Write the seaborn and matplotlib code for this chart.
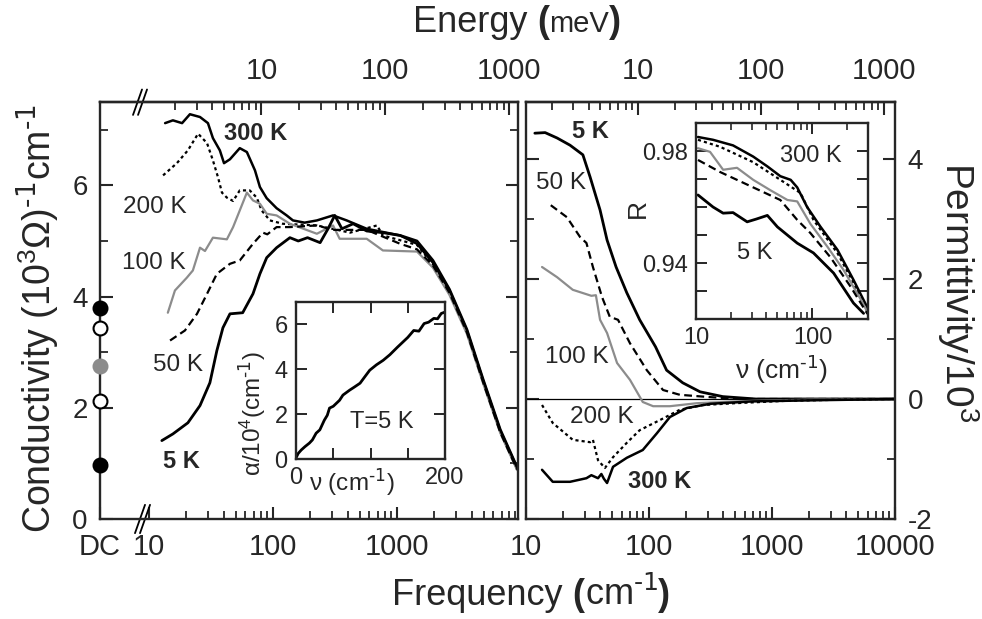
import matplotlib
matplotlib.use('Agg')
import matplotlib.pyplot as plt
import matplotlib.ticker as mticker
from matplotlib.offsetbox import TextArea, HPacker, AnchoredOffsetbox
import seaborn as sns
import pandas as pd

# ---------- optical conductivity, 10^3 (Ohm cm)^-1 ----------
nu_300 = [13.5, 15.6, 18.5, 21.4, 25.8, 29.9, 32.8, 37.3, 40.3, 45, 54, 61.6, 71.6, 78.5, 89, 107,
          129, 145, 180, 226, 305, 393, 570, 1060, 1450, 1950, 2650, 3660, 4950, 6800, 9300]
sig_300 = [7.12, 7.17, 7.12, 7.28, 7.23, 7.12, 6.85, 6.63, 6.40, 6.47, 6.67, 6.60, 6.27, 5.97, 5.77, 5.59,
           5.46, 5.37, 5.33, 5.37, 5.46, 5.37, 5.22, 5.10, 4.95, 4.61, 4.11, 3.39, 2.49, 1.59, 0.92]
nu_200 = [13.0, 16.8, 20.6, 24.9, 29.4, 32.8, 36, 38.8, 42.5, 47.7, 54, 65, 74, 81, 94.5, 120, 226, 418,
          690, 770, 1450, 1950, 2650, 3660, 4950, 6800, 9300]
sig_200 = [6.18, 6.40, 6.63, 6.93, 6.76, 6.45, 6.15, 5.87, 5.78, 5.72, 5.91, 5.91, 5.78, 5.55, 5.37, 5.31,
           5.28, 5.15, 5.28, 5.10, 4.93, 4.58, 4.08, 3.36, 2.47, 1.57, 0.90]
nu_100 = [14.2, 16.2, 20.2, 22.6, 25.8, 28.3, 32.8, 42.5, 47.7, 54, 61.6, 69, 78.5, 89, 107, 137, 226,
          305, 345, 570, 770, 1450, 1950, 2650, 3660, 4950, 6800, 9300]
sig_100 = [3.71, 4.11, 4.34, 4.47, 4.88, 4.82, 5.06, 5.03, 5.25, 5.55, 5.87, 5.73, 5.67, 5.49, 5.46, 5.31,
           5.13, 5.28, 5.04, 5.04, 4.83, 4.81, 4.52, 4.03, 3.33, 2.44, 1.55, 0.88]
nu_50 = [14.8, 19.5, 24.4, 29.4, 35.3, 45, 54, 69, 83, 90, 107, 137, 226, 305, 570, 1060, 1450, 1950,
         2650, 3660, 4950, 6800, 9300]
sig_50 = [3.21, 3.39, 3.69, 4.05, 4.41, 4.59, 4.65, 4.95, 5.15, 5.12, 5.25, 5.25, 5.28, 5.20, 5.20, 4.95,
          4.85, 4.56, 4.07, 3.36, 2.46, 1.56, 0.89]
nu_5 = [12.7, 15.6, 20.6, 25.8, 31, 35.3, 39.5, 45, 57, 69, 78.5, 89, 107, 137, 160, 190, 240, 278, 315,
        360, 443, 570, 770, 1060, 1450, 1950, 2650, 3660, 4950, 6800, 9300]
sig_5 = [1.41, 1.53, 1.73, 2.04, 2.45, 3.03, 3.44, 3.69, 3.71, 4.05, 4.41, 4.70, 4.88, 5.06, 5.00, 5.06,
         4.97, 5.22, 5.46, 5.22, 5.31, 5.18, 5.15, 5.10, 5.00, 4.65, 4.13, 3.41, 2.51, 1.61, 0.93]

# DC conductivity (5, 50, 100, 200, 300 K)
dc_temps = ['5 K', '50 K', '100 K', '200 K', '300 K']
dc_sigma = [3.80, 3.44, 2.76, 2.13, 0.97]

# ---------- absorption at 5 K, 10^4 cm^-1 ----------
nu_abs = [0, 3, 7, 12, 18, 22, 27, 32, 38, 42, 45, 50, 58.5, 63, 72, 78, 86, 92, 99, 108, 117, 126,
          136, 143, 150, 158, 165, 172, 178, 185, 190, 195, 200]
alpha_5 = [0.05, 0.25, 0.40, 0.55, 0.71, 0.85, 1.15, 1.30, 1.73, 1.95, 2.27, 2.35, 2.62, 2.85, 3.07, 3.20,
           3.38, 3.65, 3.96, 4.20, 4.40, 4.65, 4.98, 5.20, 5.42, 5.73, 5.70, 6.04, 6.10, 6.27, 6.25, 6.49, 6.55]

# ---------- permittivity / 10^3 ----------
nu_e5 = [11.8, 14.3, 17.9, 22.8, 29, 33.2, 40, 45.6, 54, 66, 84, 113, 139, 188, 260, 398, 740, 2000, 10000]
eps_5 = [4.43, 4.44, 4.35, 4.23, 4.07, 3.70, 3.15, 2.65, 2.20, 1.77, 1.32, 0.87, 0.48, 0.27, 0.12, 0.04,
         0.0, 0.0, 0.0]
nu_e50 = [15.9, 21.5, 27.5, 31, 35, 41.5, 48, 56, 70, 96, 130, 178, 275, 520, 2000, 10000]
eps_50 = [3.23, 3.03, 2.70, 2.60, 2.20, 1.70, 1.37, 1.32, 0.93, 0.48, 0.15, 0.07, 0.04, 0.0, 0.0, 0.0]
nu_e100 = [13.5, 17.9, 24, 34, 37, 40, 45.6, 55, 70, 89, 108, 148, 245, 400, 700, 2000, 10000]
eps_100 = [2.20, 2.03, 1.82, 1.72, 1.73, 1.32, 1.10, 0.60, 0.32, -0.05, -0.12, -0.12, -0.07, -0.05,
           -0.03, -0.01, 0.0]
nu_e200 = [13.5, 16.5, 24, 33.2, 35, 38.5, 43.8, 51, 66, 84, 123, 178, 275, 500, 1320, 4000, 10000]
eps_200 = [-0.10, -0.40, -0.68, -0.72, -0.68, -1.02, -1.15, -0.97, -0.73, -0.52, -0.35, -0.18, -0.10,
           -0.07, -0.03, -0.01, 0.0]
nu_e300 = [13.5, 16.5, 22.8, 31, 34, 38.5, 41, 43, 45.6, 51, 66, 89, 116, 148, 203, 315, 700, 2400, 10000]
eps_300 = [-1.18, -1.38, -1.38, -1.32, -1.27, -1.32, -1.25, -1.33, -1.40, -1.13, -0.98, -0.85, -0.57,
           -0.30, -0.15, -0.08, -0.04, -0.02, 0.0]

# ---------- reflectivity ----------
nu_r300 = [10.4, 14, 20.8, 31, 41, 53, 65, 74, 90, 117, 164, 225, 297]
R_300 = [0.985, 0.984, 0.982, 0.978, 0.9745, 0.971, 0.9697, 0.967, 0.960, 0.953, 0.9447, 0.934, 0.924]
nu_r200 = [10.4, 16.1, 31, 53, 79, 102, 164, 225, 297]
R_200 = [0.984, 0.9815, 0.976, 0.9697, 0.965, 0.9554, 0.9435, 0.933, 0.9225]
nu_r100 = [10.4, 13.2, 17.1, 22.5, 31, 43.5, 61, 74, 96, 135, 185, 260, 297]
R_100 = [0.981, 0.9797, 0.9733, 0.974, 0.9697, 0.966, 0.9625, 0.962, 0.954, 0.9457, 0.9375, 0.927, 0.9225]
nu_r50 = [10.4, 16.1, 31, 53, 74, 96, 143, 213, 297]
R_50 = [0.9768, 0.9725, 0.967, 0.9625, 0.9554, 0.9507, 0.942, 0.9315, 0.9218]
nu_r5 = [10.4, 14, 17.1, 20.8, 27.5, 33, 41, 50, 74, 102, 152, 225, 275]
R_5 = [0.9643, 0.960, 0.9578, 0.958, 0.9547, 0.9557, 0.957, 0.9529, 0.9471, 0.9436, 0.9364, 0.9257, 0.922]

GREY = '#8c8c8c'
STYLE = {
    '5 K': dict(color='black', lw=2.0, ls='-'),
    '50 K': dict(color='black', lw=1.6, ls=(0, (3.5, 2))),
    '100 K': dict(color=GREY, lw=1.6, ls='-'),
    '200 K': dict(color='black', lw=1.6, ls=(0, (1.4, 1.4))),
    '300 K': dict(color='black', lw=1.8, ls='-'),
}
DC_FACE = {'5 K': 'black', '50 K': 'white', '100 K': GREY, '200 K': 'white', '300 K': 'black'}
CM_PER_MEV = 8.0655
INV = r'$^{\text{-1}}$'

W, H = 982, 619


def box(x0, y0, x1, y1):
    return [x0 / W, 1 - y1 / H, (x1 - x0) / W, (y1 - y0) / H]


def ftext(px, py, s, **kw):
    fig.text(px / W, 1 - py / H, s, ha='center', va='center', **kw)


def draw(ax, x, y, name):
    st = STYLE[name]
    sns.lineplot(x=x, y=y, ax=ax, color=st['color'], linewidth=st['lw'], linestyle=st['ls'],
                 estimator=None, sort=False, legend=False)


def label_pieces(pieces, px, py):
    kids = [TextArea(s, textprops=dict(size=sz, weight=wt)) for s, sz, wt in pieces]
    pack = HPacker(children=kids, align='baseline', pad=0, sep=0)
    ab = AnchoredOffsetbox(loc='center', child=pack, frameon=False, pad=0, borderpad=0,
                           bbox_to_anchor=(px / W, 1 - py / H), bbox_transform=fig.transFigure)
    fig.add_artist(ab)


sns.set_style('ticks')
plt.rcParams['font.family'] = ['Liberation Sans', 'DejaVu Sans']
plt.rcParams['mathtext.default'] = 'regular'
plt.rcParams['axes.unicode_minus'] = False
plt.rcParams['axes.linewidth'] = 1.7

fig = plt.figure(figsize=(W / 100, H / 100), dpi=100)

x_dc = 4.03
minor_log = [m * d for d in (10, 100, 1000) for m in range(2, 10)]
e_major = [10, 100, 1000]
e_minor = [m * d for d in (1, 10, 100) for m in range(2, 10)]


def int_fmt(v, pos):
    return '%d' % round(v)


def common_ticks(ax):
    ax.tick_params(which='major', direction='in', length=9, width=1.5, labelsize=20, pad=9)
    ax.tick_params(which='minor', direction='in', length=5.5, width=1.3)


def energy_axis(ax):
    sec = ax.secondary_xaxis('top', functions=(lambda x: x / CM_PER_MEV, lambda e: e * CM_PER_MEV))
    sec.xaxis.set_major_locator(mticker.FixedLocator(e_major))
    sec.xaxis.set_minor_locator(mticker.FixedLocator(e_minor))
    sec.xaxis.set_major_formatter(mticker.FuncFormatter(int_fmt))
    sec.xaxis.set_minor_formatter(mticker.NullFormatter())
    common_ticks(sec)
    sec.tick_params(labelsize=21, pad=12)
    return sec


# ================= left panel: conductivity =================
axL = fig.add_axes(box(100, 102, 518, 519))
axL.set_xscale('log')
for nu, s, name in [(nu_300, sig_300, '300 K'), (nu_200, sig_200, '200 K'), (nu_100, sig_100, '100 K'),
                    (nu_50, sig_50, '50 K'), (nu_5, sig_5, '5 K')]:
    draw(axL, nu, s, name)
axL.set_xlim(x_dc, 9460)
axL.set_ylim(0, 7.5)
for t, s in zip(dc_temps, dc_sigma):
    axL.plot([x_dc], [s], 'o', ms=10, mfc=DC_FACE[t], mec='black' if DC_FACE[t] != GREY else GREY,
             mew=1.5, clip_on=False, zorder=5)
axL.xaxis.set_major_locator(mticker.FixedLocator([x_dc, 10, 100, 1000]))
axL.xaxis.set_minor_locator(mticker.FixedLocator(minor_log))
axL.xaxis.set_major_formatter(mticker.FixedFormatter(['DC', '10', '100', '1000']))
axL.xaxis.set_minor_formatter(mticker.NullFormatter())
axL.yaxis.set_major_locator(mticker.MultipleLocator(2))
axL.yaxis.set_minor_locator(mticker.MultipleLocator(1))
common_ticks(axL)
axL.tick_params(axis='x', which='both', top=False, pad=10, labelsize=21)
axL.tick_params(axis='y', which='both', right=True)
axL.set_xlabel('')
axL.set_ylabel('')
# break marks
for dx in (0.0, 0.012):
    axL.plot([0.0837 + dx, 0.1077 + dx], [-0.034, 0.034], color='black', lw=1.3,
             transform=axL.transAxes, clip_on=False)
    axL.plot([0.0790 + dx, 0.1005 + dx], [0.969, 1.03], color='black', lw=1.3,
             transform=axL.transAxes, clip_on=False)
energy_axis(axL)

# inset: absorption
axA = fig.add_axes(box(296, 302, 445, 459))
draw(axA, nu_abs, alpha_5, '5 K')
axA.set_xlim(0, 200)
axA.set_ylim(0, 7)
axA.xaxis.set_major_locator(mticker.MultipleLocator(50))
axA.xaxis.set_major_formatter(mticker.FuncFormatter(lambda v, p: '%d' % v if v in (0, 200) else ''))
axA.yaxis.set_major_locator(mticker.MultipleLocator(2))
axA.tick_params(which='major', direction='in', length=8, width=1.4, labelsize=17, pad=6,
                top=True, right=True)
axA.set_xlabel('')
axA.set_ylabel('')
ftext(252, 414, r'$\alpha$/10$^4$(cm' + INV + ')', fontsize=17.5, rotation=90)
ftext(352, 482, 'ν (cm' + INV + ')', fontsize=17.5)
ftext(382, 422, 'T=5 K', fontsize=17)

# ================= right panel: permittivity =================
axR = fig.add_axes(box(526, 102, 895, 519))
axR.set_xscale('log')
axR.axhline(0, color='black', lw=0.9, zorder=1)
for nu, e, name in [(nu_e5, eps_5, '5 K'), (nu_e50, eps_50, '50 K'), (nu_e100, eps_100, '100 K'),
                    (nu_e200, eps_200, '200 K'), (nu_e300, eps_300, '300 K')]:
    draw(axR, nu, e, name)
axR.set_xlim(10, 10000)
axR.set_ylim(-2, 4.95)
axR.xaxis.set_major_locator(mticker.FixedLocator([10, 100, 1000, 10000]))
axR.xaxis.set_minor_locator(mticker.FixedLocator(minor_log))
axR.xaxis.set_major_formatter(mticker.FuncFormatter(int_fmt))
axR.xaxis.set_minor_formatter(mticker.NullFormatter())
axR.yaxis.set_major_locator(mticker.MultipleLocator(2))
axR.yaxis.set_minor_locator(mticker.MultipleLocator(1))
common_ticks(axR)
axR.tick_params(axis='x', which='both', top=False, pad=10, labelsize=21)
axR.tick_params(axis='y', which='both', left=True, right=True, labelleft=False, labelright=True)
axR.set_xlabel('')
axR.set_ylabel('')
energy_axis(axR)

# inset: reflectivity
axI = fig.add_axes(box(696, 123, 868, 319))
axI.set_xscale('log')
for nu, r, name in [(nu_r300, R_300, '300 K'), (nu_r200, R_200, '200 K'), (nu_r100, R_100, '100 K'),
                    (nu_r50, R_50, '50 K'), (nu_r5, R_5, '5 K')]:
    draw(axI, nu, r, name)
axI.set_xlim(10, 300)
axI.set_ylim(0.92, 0.99)
axI.xaxis.set_major_locator(mticker.FixedLocator([10, 100]))
axI.xaxis.set_minor_locator(mticker.FixedLocator([m * d for d in (10, 100) for m in range(2, 10)]))
axI.xaxis.set_major_formatter(mticker.FuncFormatter(int_fmt))
axI.xaxis.set_minor_formatter(mticker.NullFormatter())
axI.yaxis.set_major_locator(mticker.MultipleLocator(0.01))
axI.yaxis.set_major_formatter(mticker.FuncFormatter(
    lambda v, p: '%.2f' % v if abs(v - 0.94) < 1e-4 or abs(v - 0.98) < 1e-4 else ''))
axI.tick_params(which='major', direction='in', length=8, width=1.4, labelsize=17, pad=6,
                top=True, right=True)
axI.tick_params(which='minor', direction='in', length=5, width=1.2, top=True)
axI.set_xlabel('')
axI.set_ylabel('')
ftext(638, 208, 'R', fontsize=19, rotation=90)
ftext(782, 370, 'ν (cm' + INV + ')', fontsize=19)
ftext(811, 156, '300 K', fontsize=17)
ftext(755, 253, '5 K', fontsize=17)

# ---------- curve labels ----------
ftext(256, 133, '300 K', fontsize=17, weight='bold')
ftext(155, 207, '200 K', fontsize=17.5)
ftext(154, 263, '100 K', fontsize=17.5)
ftext(178, 365, '50 K', fontsize=17.5)
ftext(181, 461, '5 K', fontsize=17, weight='bold')
ftext(590, 132, '5 K', fontsize=17, weight='bold')
ftext(561, 183, '50 K', fontsize=17.5)
ftext(577, 357, '100 K', fontsize=17.5)
ftext(602, 417, '200 K', fontsize=17.5)
ftext(660, 482, '300 K', fontsize=17, weight='bold')

# ---------- axis titles ----------
ftext(38, 318, r'Conductivity (10$^3$Ω)' + INV + 'cm' + INV, fontsize=27, rotation=90)
ftext(958, 292, r'Permittivity/10$^3$', fontsize=28, rotation=270)
label_pieces([('Energy ', 26, 'normal'), ('(', 26, 'bold'), ('meV', 21, 'normal'), (')', 26, 'bold')],
             517, 23)
label_pieces([('Frequency ', 26, 'normal'), ('(', 26, 'bold'), ('cm' + INV, 26, 'normal'),
              (')', 26, 'bold')], 531, 595)

fig.savefig('out.png', dpi=100)
